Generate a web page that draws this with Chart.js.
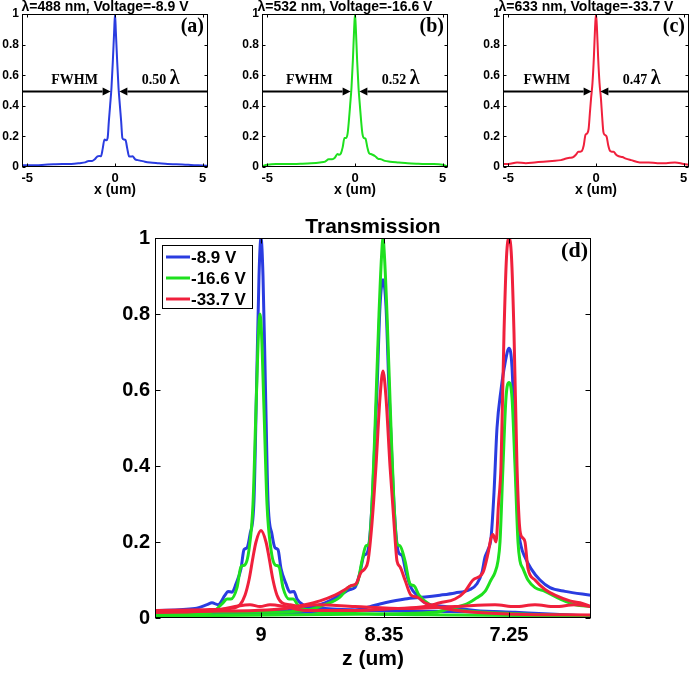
<!DOCTYPE html>
<html><head><meta charset="utf-8">
<script src="https://cdn.jsdelivr.net/npm/chart.js@4"></script>
<style>
html,body{margin:0;padding:0;background:#fff;}
#wrap{position:relative;width:694px;height:674px;overflow:hidden;background:#fff;}
canvas{position:absolute;}
</style></head><body>
<div id="wrap">
<canvas id="ca" width="232" height="200" style="left:0;top:0;width:232px;height:200px"></canvas>
<canvas id="cb" width="232" height="200" style="left:240px;top:0;width:232px;height:200px"></canvas>
<canvas id="cc" width="213" height="200" style="left:481px;top:0;width:213px;height:200px"></canvas>
<canvas id="cd" width="694" height="474" style="left:0;top:200px;width:694px;height:474px"></canvas>
</div>
<script>
// ---------- data: focal-spot profiles (x in um) ----------
const profileX = [-5.3,-5,-4.5,-4,-3.5,-3,-2.5,-2,-1.7,-1.5,-1.3,-1.15,-1,-0.9,-0.8,-0.7,-0.6,-0.5,-0.42,-0.35,-0.28,-0.2,-0.12,-0.05,0,
                  0.05,0.12,0.2,0.28,0.35,0.42,0.5,0.6,0.7,0.8,0.9,1,1.15,1.3,1.5,1.7,2,2.5,3,3.5,4,4.5,5,5.3];
const profile488 = [0.01,0.012,0.012,0.015,0.018,0.02,0.02,0.025,0.03,0.04,0.04,0.05,0.07,0.072,0.07,0.12,0.18,0.175,0.19,0.3,0.4,0.52,0.7,0.88,1.0,
                    0.88,0.7,0.52,0.4,0.3,0.19,0.18,0.175,0.12,0.07,0.068,0.07,0.05,0.045,0.04,0.035,0.03,0.025,0.02,0.018,0.015,0.012,0.01,0.008];
const profile532 = [0.005,0.015,0.02,0.02,0.02,0.022,0.025,0.03,0.035,0.05,0.05,0.06,0.085,0.08,0.09,0.13,0.19,0.19,0.22,0.3,0.4,0.52,0.7,0.9,1.0,
                    0.9,0.7,0.52,0.4,0.3,0.22,0.19,0.185,0.13,0.09,0.085,0.08,0.07,0.055,0.05,0.04,0.035,0.03,0.025,0.022,0.02,0.02,0.015,0.003];
const profile633 = [0.02,0.02,0.03,0.025,0.03,0.035,0.04,0.045,0.055,0.06,0.065,0.08,0.1,0.1,0.105,0.14,0.21,0.22,0.25,0.35,0.45,0.55,0.72,0.92,1.0,
                    0.92,0.72,0.55,0.45,0.33,0.23,0.21,0.2,0.14,0.105,0.1,0.1,0.08,0.07,0.065,0.055,0.045,0.03,0.03,0.025,0.025,0.03,0.02,0.015];
const profileTitles = ['λ=488 nm, Voltage=-8.9 V','λ=532 nm, Voltage=-16.6 V','λ=633 nm, Voltage=-33.7 V'];
const panelLabels = ['(a)','(b)','(c)','(d)'];
const fwhmValues = ['0.50','0.52','0.47'];
const profileXTicks = [-5,0,5];
const yTicks = [0,0.2,0.4,0.6,0.8,1];

// ---------- data: transmission scans ([scan position, transmission]) ----------
const voltages = ['-8.9 V','-16.6 V','-33.7 V'];
const zTickPos = [106,229,354];
const zTickLabels = ['9','8.35','7.25'];
const blueScan1 = [[0,0.02],[40,0.025],[52,0.035],[57,0.04],[63,0.035],[70,0.06],[73,0.07],[77,0.068],[81,0.09],[86,0.13],[89,0.18],[92,0.185],[95,0.22],[99,0.31],[101.5,0.6],[104,0.9],[106,1.0],[108,0.9],[110.5,0.6],[113,0.31],[117,0.22],[120,0.185],[123,0.18],[126,0.13],[131,0.09],[135,0.068],[139,0.07],[142,0.05],[148,0.035],[155,0.03],[170,0.025],[220,0.02],[280,0.018],[340,0.015],[390,0.008],[436,0.005]];
const blueScan2 = [[0,0.012],[100,0.015],[150,0.025],[170,0.04],[185,0.06],[195,0.075],[200,0.08],[205,0.12],[209,0.165],[212,0.17],[215,0.22],[218,0.35],[222,0.6],[225,0.82],[228,0.89],[231,0.82],[234,0.6],[238,0.35],[241,0.22],[244,0.17],[247,0.165],[251,0.12],[256,0.08],[262,0.06],[270,0.04],[290,0.03],[320,0.02],[360,0.015],[400,0.01],[436,0.005]];
const blueScan3 = [[0,0.01],[100,0.01],[150,0.015],[200,0.02],[215,0.03],[230,0.04],[250,0.05],[270,0.055],[285,0.06],[300,0.066],[315,0.075],[322,0.09],[327,0.12],[330,0.16],[333,0.18],[336,0.21],[339,0.33],[342,0.5],[346,0.6],[350,0.67],[354,0.71],[357,0.66],[360,0.45],[363,0.25],[366,0.19],[370,0.16],[376,0.13],[385,0.1],[395,0.08],[410,0.07],[436,0.06]];
const greenScan1 = [[0,0.01],[50,0.012],[60,0.02],[68,0.04],[72,0.05],[76,0.05],[82,0.08],[86,0.135],[90,0.14],[94,0.18],[98,0.3],[101,0.55],[103.5,0.75],[105,0.8],[106.5,0.75],[109,0.55],[112,0.3],[116,0.18],[120,0.14],[124,0.135],[128,0.08],[134,0.05],[138,0.05],[144,0.03],[155,0.02],[200,0.012],[300,0.008],[436,0.005]];
const greenScan2 = [[0,0.015],[100,0.015],[150,0.02],[170,0.035],[185,0.055],[193,0.08],[197,0.085],[202,0.09],[207,0.15],[211,0.19],[214,0.195],[217,0.3],[220,0.5],[224,0.8],[226.5,0.95],[228,1.0],[229.5,0.95],[232,0.8],[236,0.5],[239,0.3],[242,0.195],[245,0.19],[250,0.15],[255,0.09],[259,0.085],[264,0.06],[275,0.035],[290,0.025],[330,0.015],[436,0.005]];
const greenScan3 = [[0,0.005],[200,0.01],[280,0.015],[295,0.025],[310,0.035],[320,0.05],[330,0.07],[336,0.1],[340,0.12],[343,0.15],[345,0.2],[348,0.4],[351,0.58],[354,0.62],[357,0.58],[360,0.4],[363,0.2],[365,0.15],[368,0.13],[373,0.1],[380,0.08],[390,0.07],[405,0.05],[420,0.035],[436,0.03]];
const redScan1 = [[0,0.02],[50,0.022],[75,0.025],[85,0.035],[90,0.06],[94,0.1],[98,0.16],[101,0.2],[106,0.23],[111,0.2],[114,0.16],[118,0.1],[122,0.06],[127,0.04],[135,0.035],[145,0.03],[160,0.035],[200,0.03],[250,0.025],[300,0.03],[340,0.035],[360,0.03],[380,0.035],[400,0.03],[420,0.035],[436,0.03]];
const redScan2 = [[0,0.015],[50,0.018],[100,0.02],[130,0.025],[150,0.035],[165,0.045],[180,0.06],[190,0.075],[196,0.085],[201,0.09],[206,0.12],[210,0.13],[213,0.15],[217,0.25],[221,0.4],[225,0.58],[228,0.65],[231,0.58],[235,0.4],[239,0.25],[242,0.15],[245,0.135],[250,0.1],[256,0.06],[262,0.055],[270,0.04],[290,0.025],[320,0.015],[360,0.01],[436,0.008]];
const redScan3 = [[0,0.015],[60,0.02],[80,0.03],[95,0.035],[105,0.03],[115,0.035],[130,0.03],[150,0.02],[200,0.02],[240,0.025],[270,0.03],[285,0.04],[300,0.05],[310,0.07],[318,0.1],[328,0.12],[333,0.17],[336,0.21],[338,0.22],[341,0.2],[343.5,0.3],[346,0.4],[349,0.75],[351.5,0.95],[354,1.0],[356.5,0.95],[359,0.75],[362,0.4],[365,0.23],[368,0.21],[370,0.2],[373,0.13],[380,0.1],[390,0.075],[400,0.06],[415,0.045],[425,0.04],[436,0.03]];

// ---------- styling ----------
const BLUE = '#2a3ce0', GREEN = '#1ee01e', RED = '#f0203c';
const SANS = "'Liberation Sans', Arial, Helvetica, sans-serif";
const SERIF = "'Liberation Serif', 'Times New Roman', serif";

const boxPlugin = {
  id: 'box',
  afterDatasetsDraw(chart, args, opts) {
    const {ctx, chartArea: a, scales: {x, y}} = chart;
    const L = opts.tick || 4;
    ctx.save();
    ctx.strokeStyle = '#000'; ctx.lineWidth = 1;
    const l = Math.round(a.left) + 0.5, t = Math.round(a.top) + 0.5, r = Math.round(a.right) - 0.5, b = Math.round(a.bottom) - 0.5;
    ctx.strokeRect(l, t, r - l, b - t);
    ctx.beginPath();
    x.ticks.forEach(tk => { const p = Math.round(x.getPixelForValue(tk.value)) + 0.5; ctx.moveTo(p, b); ctx.lineTo(p, b - L); ctx.moveTo(p, t); ctx.lineTo(p, t + L); });
    y.ticks.forEach(tk => { const p = Math.round(y.getPixelForValue(tk.value)) + 0.5; ctx.moveTo(l, p); ctx.lineTo(l + L, p); ctx.moveTo(r, p); ctx.lineTo(r - L, p); });
    ctx.stroke();
    ctx.restore();
  }
};

function arrow(ctx, x0, x1, y) {
  const dir = Math.sign(x1 - x0), head = 8, hw = 4;
  ctx.beginPath(); ctx.moveTo(x0, y); ctx.lineTo(x1 - dir * head, y); ctx.stroke();
  ctx.beginPath(); ctx.moveTo(x1, y); ctx.lineTo(x1 - dir * head, y - hw); ctx.lineTo(x1 - dir * head, y + hw); ctx.closePath(); ctx.fill();
}

const profilePlugin = {
  id: 'profileAnn',
  afterDraw(chart, args, o) {
    const {ctx, chartArea: a, scales: {x, y}} = chart;
    ctx.save();
    ctx.fillStyle = '#000'; ctx.strokeStyle = '#000';
    // title
    ctx.font = 'bold 14px ' + SANS; ctx.textAlign = 'center'; ctx.textBaseline = 'alphabetic';
    ctx.fillText(o.title, (a.left + a.right) / 2 - 10, 11);
    // panel label
    ctx.font = 'bold 20px ' + SERIF; ctx.textAlign = 'right';
    ctx.fillText(o.label, a.right - 4, a.top + 18);
    // FWHM arrows
    const yh = Math.round(y.getPixelForValue(0.5)) + 0.5;
    ctx.lineWidth = 2;
    arrow(ctx, a.left, x.getPixelForValue(-0.25), yh);
    arrow(ctx, a.right, x.getPixelForValue(0.25), yh);
    ctx.font = 'bold 14px ' + SERIF; ctx.textAlign = 'center';
    ctx.fillText('FWHM', x.getPixelForValue(o.fwhmX), yh - 8);
    // value + lambda
    ctx.font = 'bold 14px ' + SERIF;
    const num = o.value + ' ';
    const w1 = ctx.measureText(num).width;
    ctx.font = 'bold 20px ' + SERIF;
    const w2 = ctx.measureText('λ').width;
    const cx = x.getPixelForValue(2.6), sx = cx - (w1 + w2) / 2;
    ctx.textAlign = 'left';
    ctx.font = 'bold 14px ' + SERIF; ctx.fillText(num, sx, yh - 8);
    ctx.font = 'bold 20px ' + SERIF; ctx.fillText('λ', sx + w1, yh - 8);
    ctx.restore();
  }
};

function profileChart(id, ys, color, idx, fwhmX, padRight) {
  new Chart(document.getElementById(id), {
    type: 'line',
    data: { datasets: [{ data: profileX.map((v, i) => ({x: v, y: ys[i]})), borderColor: color, borderWidth: 2,
      pointRadius: 0, tension: 0.3, cubicInterpolationMode: 'monotone', fill: false }] },
    options: {
      responsive: false, animation: false, events: [],
      layout: { padding: { left: 0, right: padRight, top: 14, bottom: 0 } },
      plugins: { legend: { display: false }, tooltip: { enabled: false },
        box: { tick: 3 },
        profileAnn: { title: profileTitles[idx], label: panelLabels[idx], value: fwhmValues[idx], fwhmX: fwhmX } },
      scales: {
        x: { type: 'linear', min: -5.3, max: 5.3,
          afterBuildTicks: s => { s.ticks = profileXTicks.map(v => ({value: v})); },
          afterFit: s => { s.height = 33; },
          grid: { display: false, drawTicks: false }, border: { display: false },
          ticks: { color: '#000', font: { family: SANS, weight: 'bold', size: 13 }, padding: 4, maxRotation: 0, callback: v => String(v) },
          title: { display: true, text: 'x (um)', color: '#000', font: { family: SANS, weight: 'bold', size: 14 }, padding: { top: 0, bottom: 1 } } },
        y: { type: 'linear', min: 0, max: 1,
          afterBuildTicks: s => { s.ticks = yTicks.map(v => ({value: v})); },
          afterFit: s => { s.width = 22; },
          grid: { display: false, drawTicks: false }, border: { display: false },
          ticks: { color: '#000', font: { family: SANS, weight: 'bold', size: 12 }, padding: 3, callback: v => String(v) } }
      }
    },
    plugins: [boxPlugin, profilePlugin]
  });
}

profileChart('ca', profile488, BLUE, 0, -2.3, 24);
profileChart('cb', profile532, GREEN, 1, -2.6, 24);
profileChart('cc', profile633, RED, 2, -2.8, 5);

// ---------- transmission chart ----------
const transPlugin = {
  id: 'transAnn',
  afterDraw(chart) {
    const {ctx, chartArea: a} = chart;
    ctx.save();
    ctx.fillStyle = '#000';
    ctx.font = 'bold 21px ' + SANS; ctx.textAlign = 'center'; ctx.textBaseline = 'alphabetic';
    ctx.fillText('Transmission', (a.left + a.right) / 2, a.top - 5);
    ctx.font = 'bold 22px ' + SERIF; ctx.textAlign = 'right';
    ctx.fillText(panelLabels[3], a.right - 3, a.top + 19);
    // legend
    const colors = [BLUE, GREEN, RED];
    const lx = a.left + 7, ly = a.top + 7, lw = 90, lh = 63;
    ctx.fillStyle = '#fff'; ctx.fillRect(lx, ly, lw, lh);
    ctx.strokeStyle = '#000'; ctx.lineWidth = 1; ctx.strokeRect(lx + 0.5, ly + 0.5, lw, lh);
    ctx.font = 'bold 17px ' + SANS; ctx.textAlign = 'left'; ctx.textBaseline = 'middle';
    voltages.forEach((v, i) => {
      const yy = ly + 12 + i * 21;
      ctx.strokeStyle = colors[i]; ctx.lineWidth = 3;
      ctx.beginPath(); ctx.moveTo(lx + 4, yy); ctx.lineTo(lx + 28, yy); ctx.stroke();
      ctx.fillStyle = '#000'; ctx.fillText(v, lx + 29, yy + 1);
    });
    ctx.restore();
  }
};

function scanSet(pairs, color, label, order) {
  return { label: label, data: pairs.map(p => ({x: p[0], y: p[1]})), borderColor: color, borderWidth: 3,
    pointRadius: 0, tension: 0.3, cubicInterpolationMode: 'monotone', fill: false, order: order,
    borderJoinStyle: 'round', borderCapStyle: 'round' };
}

new Chart(document.getElementById('cd'), {
  type: 'line',
  data: { datasets: [
    scanSet(redScan1, RED, voltages[2], 0), scanSet(redScan2, RED, voltages[2], 1), scanSet(redScan3, RED, voltages[2], 2),
    scanSet(greenScan1, GREEN, voltages[1], 3), scanSet(greenScan2, GREEN, voltages[1], 4), scanSet(greenScan3, GREEN, voltages[1], 5),
    scanSet(blueScan1, BLUE, voltages[0], 6), scanSet(blueScan2, BLUE, voltages[0], 7), scanSet(blueScan3, BLUE, voltages[0], 8)
  ] },
  options: {
    responsive: false, animation: false, events: [],
    layout: { padding: { left: 0, right: 103, top: 38, bottom: 0 } },
    plugins: { legend: { display: false }, tooltip: { enabled: false }, box: { tick: 5 } },
    scales: {
      x: { type: 'linear', min: 0, max: 436,
        afterBuildTicks: s => { s.ticks = zTickPos.map(v => ({value: v})); },
        afterFit: s => { s.height = 56; },
        grid: { display: false, drawTicks: false }, border: { display: false },
        ticks: { color: '#000', font: { family: SANS, weight: 'bold', size: 20 }, padding: 5, maxRotation: 0,
          callback: (v) => { const i = zTickPos.indexOf(v); return i >= 0 ? zTickLabels[i] : ''; } },
        title: { display: true, text: 'z (um)', color: '#000', font: { family: SANS, weight: 'bold', size: 21 }, padding: { top: 0, bottom: 2 } } },
      y: { type: 'linear', min: 0, max: 1,
        afterBuildTicks: s => { s.ticks = yTicks.map(v => ({value: v})); },
        afterFit: s => { s.width = 155; },
        grid: { display: false, drawTicks: false }, border: { display: false },
        ticks: { color: '#000', font: { family: SANS, weight: 'bold', size: 20 }, padding: 5, callback: v => String(v) } }
    }
  },
  plugins: [boxPlugin, transPlugin]
});
</script>
</body></html>
